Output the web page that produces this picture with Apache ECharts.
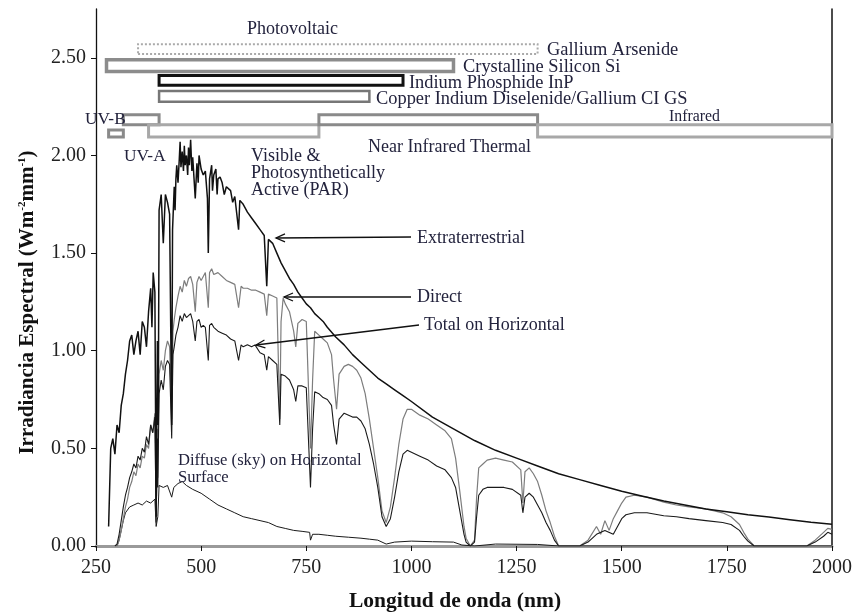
<!DOCTYPE html>
<html><head><meta charset="utf-8">
<script src="https://cdn.jsdelivr.net/npm/echarts@6.0.0/dist/echarts.min.js"></script>
<style>html,body{margin:0;padding:0;background:#fff}#c{width:855px;height:612px}</style>
</head><body><div id="c"></div>
<script>
// ---------- DATA ----------
const xTickValues = [250, 500, 750, 1000, 1250, 1500, 1750, 2000];
const yTickValues = [0, 0.5, 1, 1.5, 2, 2.5];

// Extraterrestrial spectrum [nm, W m-2 nm-1]
const extraterrestrial = [
 [280,0.10],[285,0.50],[290,0.55],[295,0.47],[300,0.62],[305,0.58],[310,0.72],[315,0.78],[320,0.88],[325,0.95],
 [330,1.05],[335,1.08],[340,0.98],[345,1.05],[350,1.10],[355,0.98],[360,1.15],[365,1.12],[370,1.02],[375,1.20],
 [380,1.32],[383,1.12],[386,1.40],[390,1.30],[393,0.15],[396,1.05],[398,0.62],[400,1.72],[405,1.80],[410,1.55],
 [415,1.80],[420,1.76],[425,1.70],[430,0.62],[432,1.62],[436,1.84],[438,1.72],[440,1.88],[442,1.95],[445,1.86],
 [448,1.98],[450,2.07],[452,1.94],[455,2.02],[458,1.92],[460,2.05],[462,1.95],[465,2.00],[468,1.90],[470,2.04],
 [472,1.95],[475,2.08],[478,1.92],[480,1.99],[486,1.78],[490,1.96],[493,1.86],[495,2.00],[500,1.93],[505,1.90],
 [510,1.92],[515,1.78],[517,1.50],[520,1.88],[525,1.95],[527,1.82],[530,1.90],[535,1.93],[538,1.80],[540,1.88],
 [545,1.89],[550,1.86],[555,1.80],[560,1.84],[570,1.82],[575,1.76],[580,1.79],[589,1.62],[592,1.77],[600,1.75],
 [610,1.71],[620,1.68],[630,1.65],[640,1.62],[650,1.59],[656,1.33],[660,1.57],[670,1.55],[680,1.50],[690,1.45],
 [700,1.41],[710,1.37],[720,1.34],[730,1.30],[740,1.27],[750,1.24],[760,1.22],[770,1.19],[780,1.17],[790,1.15],
 [800,1.12],[820,1.07],[840,1.03],[860,0.98],[880,0.94],[900,0.90],[920,0.86],[940,0.83],[960,0.80],[980,0.77],
 [1000,0.74],[1050,0.66],[1100,0.60],[1150,0.54],[1200,0.49],[1250,0.45],[1300,0.41],[1350,0.37],[1400,0.34],
 [1450,0.31],[1500,0.28],[1550,0.255],[1600,0.23],[1650,0.21],[1700,0.19],[1750,0.175],[1800,0.16],[1850,0.148],
 [1900,0.135],[1950,0.122],[2000,0.112]
];

// Direct normal spectrum
const direct = [
 [295,0],[300,0.0],[305,0.03],[310,0.08],[315,0.14],[320,0.20],[325,0.24],[330,0.30],[335,0.33],[340,0.38],
 [345,0.36],[350,0.42],[355,0.40],[360,0.46],[365,0.45],[370,0.52],[375,0.50],[380,0.62],[385,0.58],[390,0.68],
 [393,0.15],[396,0.60],[397,0.35],[400,0.88],[405,0.95],[410,0.90],[415,1.00],[420,1.05],[425,1.02],[430,0.65],
 [433,1.10],[436,1.16],[440,1.22],[445,1.28],[450,1.33],[455,1.30],[460,1.36],[465,1.33],[470,1.37],[475,1.38],
 [480,1.34],[486,1.20],[490,1.35],[495,1.38],[500,1.36],[505,1.38],[510,1.40],[517,1.22],[520,1.40],[525,1.42],
 [530,1.39],[540,1.40],[550,1.38],[560,1.36],[570,1.35],[580,1.34],[589,1.22],[595,1.33],[600,1.32],[610,1.32],
 [620,1.31],[630,1.31],[640,1.30],[650,1.29],[656,1.18],[660,1.29],[670,1.28],[680,1.27],[687,0.65],[690,1.15],
 [695,1.27],[700,1.24],[710,1.20],[720,1.10],[725,1.02],[730,1.14],[740,1.16],[750,1.15],[760,0.50],[765,0.85],
 [770,1.10],[780,1.08],[790,1.06],[800,1.04],[810,0.98],[815,0.85],[822,0.70],[828,0.88],[840,0.92],[850,0.93],
 [860,0.92],[870,0.90],[880,0.86],[890,0.78],[900,0.65],[910,0.50],[920,0.35],[930,0.18],[940,0.12],[950,0.20],
 [960,0.35],[970,0.52],[980,0.65],[990,0.70],[1000,0.70],[1020,0.67],[1040,0.65],[1060,0.62],[1080,0.59],[1095,0.55],
 [1105,0.45],[1115,0.28],[1125,0.10],[1130,0.04],[1140,0.0],[1150,0.03],[1155,0.25],[1160,0.40],[1170,0.42],[1180,0.44],
 [1200,0.45],[1220,0.44],[1240,0.43],[1260,0.39],[1265,0.22],[1270,0.38],[1280,0.40],[1290,0.37],[1300,0.33],[1310,0.26],
 [1320,0.18],[1330,0.12],[1340,0.05],[1350,0.0],[1400,0.0],[1420,0.03],[1440,0.10],[1450,0.06],[1460,0.13],[1470,0.08],
 [1480,0.14],[1490,0.18],[1500,0.22],[1510,0.25],[1530,0.26],[1560,0.25],[1600,0.225],[1630,0.21],[1660,0.20],[1700,0.19],
 [1740,0.17],[1760,0.15],[1780,0.11],[1790,0.07],[1800,0.035],[1815,0.0],[1940,0.0],[1960,0.03],[1980,0.07],[1990,0.09],[2000,0.085]
];

// Total (global) on horizontal
const totalHorizontal = [
 [295,0],[300,0.01],[305,0.06],[310,0.13],[315,0.20],[320,0.26],[325,0.30],[330,0.35],[335,0.38],[340,0.42],
 [345,0.40],[350,0.46],[355,0.44],[360,0.50],[365,0.48],[370,0.56],[375,0.52],[380,0.62],[385,0.58],[390,0.66],
 [393,0.12],[396,0.55],[397,0.30],[400,0.78],[405,0.85],[410,0.80],[415,0.92],[420,0.95],[425,0.93],[430,0.55],
 [433,0.98],[436,1.02],[440,1.08],[445,1.12],[450,1.18],[455,1.15],[460,1.19],[465,1.17],[470,1.18],[475,1.19],
 [480,1.15],[486,1.05],[490,1.15],[495,1.16],[500,1.12],[505,1.13],[510,1.12],[517,0.95],[520,1.13],[525,1.14],
 [530,1.12],[540,1.10],[550,1.09],[560,1.08],[570,1.06],[580,1.05],[589,0.95],[595,1.03],[600,1.02],[610,1.03],
 [620,1.02],[628,1.03],[640,0.99],[650,0.98],[656,0.90],[660,0.97],[670,0.95],[680,0.93],[687,0.62],[690,0.88],
 [700,0.87],[710,0.85],[720,0.80],[725,0.74],[730,0.82],[740,0.82],[750,0.81],[760,0.30],[765,0.60],[770,0.79],
 [780,0.78],[790,0.76],[800,0.75],[810,0.72],[815,0.62],[822,0.52],[828,0.65],[840,0.68],[860,0.66],[870,0.66],
 [880,0.64],[890,0.60],[900,0.52],[910,0.42],[920,0.30],[930,0.15],[940,0.10],[950,0.14],[960,0.25],[970,0.38],
 [980,0.47],[990,0.49],[1000,0.48],[1020,0.46],[1040,0.44],[1060,0.41],[1080,0.39],[1095,0.35],[1105,0.30],[1115,0.18],
 [1125,0.06],[1130,0.02],[1140,0.0],[1150,0.02],[1155,0.15],[1160,0.26],[1170,0.29],[1180,0.30],[1200,0.30],[1220,0.30],
 [1240,0.29],[1260,0.26],[1265,0.17],[1270,0.25],[1280,0.27],[1290,0.25],[1300,0.21],[1310,0.17],[1320,0.12],[1330,0.08],
 [1340,0.03],[1350,0.0],[1400,0.0],[1420,0.02],[1440,0.06],[1460,0.08],[1480,0.06],[1490,0.10],[1500,0.14],[1510,0.16],
 [1530,0.17],[1560,0.17],[1600,0.155],[1630,0.15],[1660,0.14],[1700,0.13],[1740,0.12],[1760,0.11],[1780,0.08],[1790,0.05],
 [1800,0.025],[1815,0.0],[1940,0.0],[1960,0.02],[1980,0.05],[1990,0.07],[2000,0.06]
];

// Diffuse (sky) on horizontal
const diffuseHorizontal = [
 [300,0.0],[305,0.03],[310,0.08],[315,0.13],[320,0.17],[330,0.20],[340,0.21],[350,0.22],[360,0.21],[370,0.23],
 [380,0.22],[390,0.24],[393,0.10],[397,0.15],[400,0.31],[410,0.30],[420,0.31],[430,0.25],[435,0.30],[445,0.32],
 [455,0.33],[465,0.31],[480,0.29],[500,0.27],[520,0.24],[540,0.21],[560,0.19],[580,0.17],[600,0.15],[620,0.14],
 [640,0.13],[660,0.12],[680,0.10],[700,0.09],[720,0.08],[740,0.075],[758,0.07],[760,0.03],[765,0.06],[780,0.06],
 [800,0.055],[820,0.05],[850,0.045],[880,0.04],[900,0.035],[920,0.03],[940,0.01],[960,0.02],[1000,0.025],[1050,0.022],
 [1100,0.02],[1120,0.005],[1150,0.0],[1200,0.01],[1300,0.008],[1350,0.0],[2000,0.0]
];

// Wavelength ranges of photovoltaic technologies and spectral bands [from nm, to nm]
const gaAsRange = [350, 1300];
const siRange = [275, 1100];
const inpRange = [400, 980];
const cigsRange = [400, 900];
const uvbRange = [280, 315];
const uvaRange = [315, 400];
const visRange = [375, 780];
const nirRange = [780, 1300];
const irRange = [1300, 2000];

// ---------- CHART ----------
const SERIF = '"Liberation Serif", "DejaVu Serif", serif';
const TXT = '#23233d';
function box(r, lo, hi, style) {
  return [{ xAxis: r[0], yAxis: lo, itemStyle: Object.assign({ color: 'rgba(0,0,0,0)' }, style) }, { xAxis: r[1], yAxis: hi }];
}
const gray = { borderColor: '#8a8a8a', borderWidth: 3 };
const light = { borderColor: '#a8a8a8', borderWidth: 3 };

const chart = echarts.init(document.getElementById('c'), null, { renderer: 'canvas' });
function lineSeries(name, data, color, width, z) {
  return { name, type: 'line', data, showSymbol: false, symbol: 'none', z,
    lineStyle: { color, width }, itemStyle: { color }, animation: false, silent: true };
}
const etr = lineSeries('Extraterrestrial', extraterrestrial, '#111', 1.5, 5);
etr.markArea = { silent: true, label: { show: false }, data: [
  box(gaAsRange, 2.52, 2.57, { borderColor: '#aaa', borderWidth: 2, borderType: 'dotted' }),
  box(siRange, 2.43, 2.49, { borderColor: '#8c8c8c', borderWidth: 3.5 }),
  box(inpRange, 2.36, 2.41, { borderColor: '#111', borderWidth: 3 }),
  box(cigsRange, 2.275, 2.33, { borderColor: '#777', borderWidth: 2.5 }),
  box(uvbRange, 2.095, 2.13, gray),
  box(uvaRange, 2.157, 2.208, gray),
  box(visRange, 2.095, 2.157, light),
  box(nirRange, 2.157, 2.208, gray),
  box(irRange, 2.095, 2.157, light)
]};

function text(x, y, t, size, extra) {
  return { type: 'text', x, y, z: 100, silent: true,
    style: Object.assign({ text: t, fill: TXT, font: size + 'px ' + SERIF, verticalAlign: 'middle' }, extra || {}) };
}
function arrow(x1, y1, x2, y2) {
  const dx = x2 - x1, dy = y2 - y1, L = Math.hypot(dx, dy), ux = dx / L, uy = dy / L;
  const a = 9, w = 4;
  return [
    { type: 'polyline', z: 100, silent: true, shape: { points: [[x1, y1], [x2, y2]] }, style: { stroke: '#111', lineWidth: 1.3, fill: null } },
    { type: 'polyline', z: 100, silent: true, shape: { points: [[x2 - ux * a - uy * w, y2 - uy * a + ux * w], [x2, y2], [x2 - ux * a + uy * w, y2 - uy * a - ux * w]] }, style: { stroke: '#111', lineWidth: 1.3, fill: null } }
  ];
}

chart.setOption({
  animation: false,
  backgroundColor: '#fff',
  grid: { left: 96, right: 23, top: 9, bottom: 66, containLabel: false, outerBoundsMode: 'none' },
  xAxis: [{
    type: 'value', min: 250, max: 2000, interval: 250,
    name: 'Longitud de onda (nm)', nameLocation: 'middle', nameGap: 44,
    nameTextStyle: { fontFamily: SERIF, fontWeight: 'bold', fontSize: 21.5, color: '#111', padding: [0, 18, 0, 0] },
    axisLine: { show: true, onZero: false, lineStyle: { color: '#111', width: 1.3 } },
    axisTick: { show: true, length: 5, lineStyle: { color: '#111' } },
    axisLabel: { fontFamily: SERIF, fontSize: 20, color: '#222', margin: 12, formatter: v => String(v) },
    splitLine: { show: false }
  }, {
    type: 'value', min: 250, max: 2000, position: 'top',
    axisLine: { show: true, lineStyle: { color: '#9a9a9a', width: 3 } },
    axisTick: { show: false }, axisLabel: { show: false }, splitLine: { show: false }
  }],
  yAxis: [{
    type: 'value', min: 0, max: 2.75, interval: 0.5,
    name: '{b|Irradiancia Espectral (Wm}{s|-2}{b|mm}{s|-1}{b|)}', nameLocation: 'middle', nameGap: 57,
    nameTextStyle: { padding: [0, 50, 0, 0], rich: {
      b: { fontFamily: SERIF, fontWeight: 'bold', fontSize: 21, color: '#111', lineHeight: 22 },
      s: { fontFamily: SERIF, fontWeight: 'bold', fontSize: 11, color: '#111', lineHeight: 22, verticalAlign: 'top' } } },
    axisLine: { show: true, onZero: false, lineStyle: { color: '#111', width: 1.3 } },
    axisTick: { show: true, length: 5, lineStyle: { color: '#111' }, customValues: yTickValues },
    axisLabel: { fontFamily: SERIF, fontSize: 20, color: '#222', margin: 10, customValues: yTickValues,
      formatter: v => v.toFixed(2) },
    splitLine: { show: false }
  }, {
    type: 'value', min: 0, max: 2.75, position: 'right',
    axisLine: { show: true, lineStyle: { color: '#111', width: 1.5 } },
    axisTick: { show: false }, axisLabel: { show: false }, splitLine: { show: false }
  }],
  series: [
    lineSeries('Diffuse', diffuseHorizontal, '#1a1a1a', 1.0, 2),
    lineSeries('Direct', direct, '#7d7d7d', 1.2, 3),
    lineSeries('Total on Horizontal', totalHorizontal, '#1a1a1a', 1.1, 4),
    etr
  ],
  graphic: [
    text(247, 29, 'Photovoltaic', 18),
    text(547, 50, 'Gallium Arsenide', 18.4),
    text(463, 67, 'Crystalline Silicon Si', 18.4),
    text(409, 83, 'Indium Phosphide InP', 18.4),
    text(376, 99, 'Copper Indium Diselenide/Gallium CI GS', 18.4),
    text(85, 119, 'UV-B', 17.3),
    text(124, 156, 'UV-A', 17.3),
    text(669, 117, 'Infrared', 15.8),
    text(368, 147, 'Near Infrared Thermal', 18),
    text(251, 156, 'Visible &', 18),
    text(251, 173, 'Photosynthetically', 18),
    text(251, 190, 'Active (PAR)', 18),
    text(417, 238, 'Extraterrestrial', 18),
    text(417, 297, 'Direct', 18),
    text(424, 325, 'Total on Horizontal', 18),
    text(178, 461, 'Diffuse (sky) on Horizontal', 16.6),
    text(178, 478, 'Surface', 16.6),
    ...arrow(411, 237, 276, 238),
    ...arrow(411, 297, 284, 297),
    ...arrow(419, 325, 256, 345)
  ]
});
</script>
</body></html>
